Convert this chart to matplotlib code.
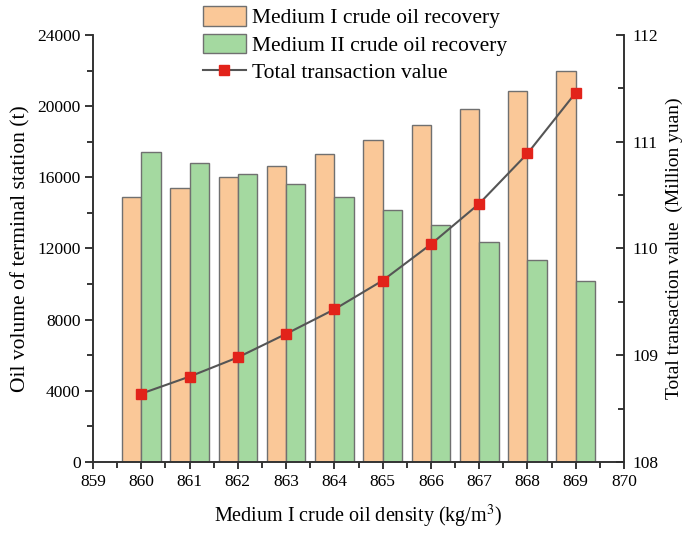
import numpy as np
import matplotlib
matplotlib.use("Agg")
import matplotlib.pyplot as plt
from matplotlib.ticker import MultipleLocator

# --- data ---
density = [860, 861, 862, 863, 864, 865, 866, 867, 868, 869]
medium1_oil = [14900, 15400, 16000, 16650, 17300, 18100, 18950, 19850, 20850, 22000]
medium2_oil = [17400, 16800, 16200, 15600, 14900, 14150, 13300, 12350, 11350, 10200]
total_value = [108.64, 108.80, 108.98, 109.20, 109.43, 109.70, 110.04, 110.42, 110.89, 111.46]

# --- styling ---
plt.rcParams['font.family'] = ['Liberation Serif', 'DejaVu Serif']
plt.rcParams['mathtext.fontset'] = 'stix'
ORANGE = '#FAC898'
GREEN = '#A4D9A0'
EDGE = '#707070'
RED = '#E2231A'
LINE = '#555555'

fig = plt.figure(figsize=(6.85, 5.37), dpi=100)
ax = fig.add_axes([0.1358, 0.1397, 0.7752, 0.7951])
ax2 = ax.twinx()

bw = 0.4
x = np.array(density)
b1 = ax.bar(x - bw / 2, medium1_oil, width=bw, color=ORANGE, edgecolor=EDGE, linewidth=1.0,
            label='Medium I crude oil recovery')
b2 = ax.bar(x + bw / 2, medium2_oil, width=bw, color=GREEN, edgecolor=EDGE, linewidth=1.0,
            label='Medium II crude oil recovery')
ln, = ax2.plot(x, total_value, color=LINE, lw=1.5, marker='s', markersize=6.5,
               markerfacecolor=RED, markeredgecolor=RED, label='Total transaction value')

# axes limits / ticks
ax.set_xlim(859, 870)
ax.set_ylim(0, 24000)
ax2.set_ylim(108, 112)
ax.xaxis.set_major_locator(MultipleLocator(1))
ax.xaxis.set_minor_locator(MultipleLocator(0.5))
ax.yaxis.set_major_locator(MultipleLocator(4000))
ax.yaxis.set_minor_locator(MultipleLocator(2000))
ax2.yaxis.set_major_locator(MultipleLocator(1))
ax2.yaxis.set_minor_locator(MultipleLocator(0.5))

for a in (ax, ax2):
    a.spines['top'].set_visible(False)
    for s in a.spines.values():
        s.set_color('#333333')
        s.set_linewidth(1.2)

ax.tick_params(axis='x', which='major', direction='out', length=5, width=1.1, labelsize=12.5, pad=4)
ax.tick_params(axis='x', which='minor', direction='out', length=4, width=1.1)
ax.tick_params(axis='y', which='major', direction='out', length=6, width=1.1, labelsize=12.5, pad=3)
ax.tick_params(axis='y', which='minor', direction='out', length=4, width=1.1)
ax2.tick_params(axis='y', which='major', direction='in', length=6, width=1.1, labelsize=12.5, pad=6)
ax2.tick_params(axis='y', which='minor', direction='in', length=4, width=1.1)

ax.set_xlabel('Medium I crude oil density (kg/m$^3$)', fontsize=14.5, labelpad=9)
ax.set_ylabel('Oil volume of terminal station (t)', fontsize=15.5, labelpad=5)
ax2.set_ylabel('Total transaction value  (Million yuan)', fontsize=14, labelpad=5)

ax2.set_zorder(ax.get_zorder() + 1)
ax2.patch.set_visible(False)

fig.legend(handles=[b1, b2, ln], loc='upper left', bbox_to_anchor=(0.29, 0.996),
           frameon=False, fontsize=15.5, handlelength=2.0, handleheight=1.0,
           handletextpad=0.3, labelspacing=0.25, borderaxespad=0, borderpad=0.2)

fig.savefig('out.png', dpi=100)
